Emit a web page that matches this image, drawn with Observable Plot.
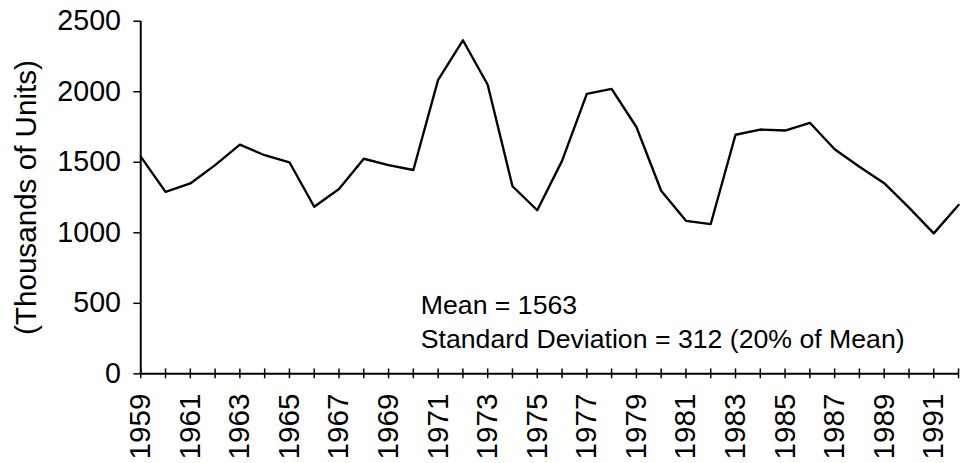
<!DOCTYPE html>
<html><head><meta charset="utf-8">
<script src="https://cdn.jsdelivr.net/npm/d3@7"></script>
<script src="https://cdn.jsdelivr.net/npm/@observablehq/plot@0.6"></script>
<style>html,body{margin:0;padding:0;background:#fff;overflow:hidden;}</style>
</head><body><div id="chart"></div><script>
const years = [1959,1960,1961,1962,1963,1964,1965,1966,1967,1968,1969,1970,1971,1972,1973,1974,1975,1976,1977,1978,1979,1980,1981,1982,1983,1984,1985,1986,1987,1988,1989,1990,1991,1992];
const starts = [1540,1290,1350,1480,1625,1550,1500,1185,1310,1525,1480,1445,2085,2365,2050,1330,1160,1510,1985,2020,1750,1298,1085,1062,1695,1732,1725,1780,1592,1468,1352,1178,996,1197];
const yTicks = [0,500,1000,1500,2000,2500];
const labelYears = [1959,1961,1963,1965,1967,1969,1971,1973,1975,1977,1979,1981,1983,1985,1987,1989,1991];
const yTitle = "(Thousands of Units)";
const noteLines = ["Mean = 1563", "Standard Deviation = 312 (20% of Mean)"];

const data = years.map((year, i) => ({year, value: starts[i]}));
const font = "'Liberation Sans', Arial, Helvetica, sans-serif";

const chart = Plot.plot({
  width: 975, height: 463,
  marginLeft: 142, marginRight: 5, marginTop: 21, marginBottom: 85,
  style: {fontFamily: font, background: "#fff", color: "#000", overflow: "visible"},
  x: {domain: [1959, 1992]},
  y: {domain: [0, 2500]},
  marks: [
    Plot.ruleY([0], {strokeWidth: 2}),
    Plot.ruleX([1959], {y1: 0, y2: 2500, strokeWidth: 2}),
    Plot.axisY({ticks: yTicks, tickSize: 7, tickPadding: 13, fontSize: 29, tickFormat: d => String(d), label: null, strokeWidth: 1.5}),
    Plot.axisX({ticks: years, tickSize: 10, dy: -5, tickFormat: () => "", label: null, strokeWidth: 1.5}),
    Plot.axisX({ticks: labelYears, tickSize: 0, tickPadding: 20, tickRotate: -90, fontSize: 30, tickFormat: d => String(d), label: null}),
    Plot.line(data, {x: "year", y: "value", strokeWidth: 2.4, stroke: "#000"}),
    Plot.text([yTitle], {frameAnchor: "left", textAnchor: "middle", rotate: -90, dx: -116, fontSize: 30, text: d => d}),
    Plot.text([noteLines.join("\n")], {x: 1970.3, y: 595, text: d => d, textAnchor: "start", lineAnchor: "top", lineHeight: 1.27, fontSize: 27})
  ]
});
document.getElementById("chart").appendChild(chart);
</script></body></html>
